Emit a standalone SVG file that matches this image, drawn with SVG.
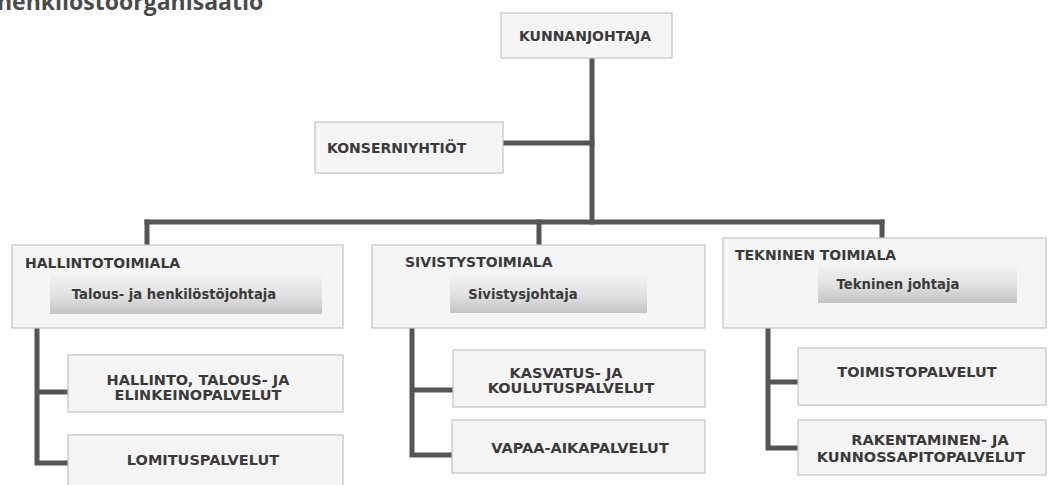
<svg xmlns="http://www.w3.org/2000/svg" width="1050" height="485" viewBox="0 0 1050 485">
<defs>
<linearGradient id="g" x1="0" y1="0" x2="0" y2="1">
<stop offset="0" stop-color="#f2f2f2"/>
<stop offset="0.5" stop-color="#e2e2e2"/>
<stop offset="1" stop-color="#c4c4c4"/>
</linearGradient>
<style>
.box{fill:#f5f5f5;stroke:#c4c4c4;stroke-width:1.2}
.inner{fill:url(#g);stroke:none}
.t{font-family:"DejaVu Sans",Verdana,sans-serif;font-weight:bold;font-size:14px;fill:#3a3a3a}
.u{font-size:14.5px}
.s{font-family:"DejaVu Sans",Verdana,sans-serif;font-weight:bold;font-size:13.2px;fill:#3a3a3a;text-anchor:middle}
.c{text-anchor:middle}
.ln{fill:none;stroke:#555;stroke-width:5;stroke-linecap:square;stroke-linejoin:miter}
</style>
</defs>
<rect width="1050" height="485" fill="#fff"/>
<text x="-3" y="10" font-family="'Open Sans',sans-serif" font-weight="bold" font-size="23" fill="#4a4a4a">henkilöstöorganisaatio</text>
<g id="connectors">
<path class="ln" d="M592 58 V222"/>
<path class="ln" d="M504 143 H592"/>
<path class="ln" d="M147 222 H882"/>
<path class="ln" d="M147 222 V243 M539 222 V243 M882 222 V238"/>
<path class="ln" d="M37 329 V463 H68 M37 392 H68"/>
<path class="ln" d="M412 329 V455 H452 M412 390 H452"/>
<path class="ln" d="M768 329 V448 H798 M768 382 H798"/>
</g>
<g id="kunnanjohtaja">
<rect class="box" x="501" y="13" width="171" height="45"/>
<text class="t c" x="585" y="41">KUNNANJOHTAJA</text>
</g>
<g id="konserniyhtiot">
<rect class="box" x="315" y="122" width="188" height="51"/>
<text class="t" x="327" y="153">KONSERNIYHTIÖT</text>
</g>
<g id="hallintotoimiala">
<rect class="box" x="12" y="245" width="331" height="83"/>
<text class="t" x="25" y="268">HALLINTOTOIMIALA</text>
<rect class="inner" x="50" y="276" width="272" height="38"/>
<text class="s" x="174" y="299">Talous- ja henkilöstöjohtaja</text>
</g>
<g id="sivistystoimiala">
<rect class="box" x="372" y="245" width="333" height="83"/>
<text class="t" x="405" y="267">SIVISTYSTOIMIALA</text>
<rect class="inner" x="450" y="276" width="197" height="37"/>
<text class="s" x="523" y="299">Sivistysjohtaja</text>
</g>
<g id="tekninen">
<rect class="box" x="723" y="238" width="323" height="90"/>
<text class="t" x="735" y="260">TEKNINEN TOIMIALA</text>
<rect class="inner" x="818" y="265" width="199" height="38"/>
<text class="s" x="898" y="289">Tekninen johtaja</text>
</g>
<g id="hallinto">
<rect class="box" x="68" y="355" width="275" height="57"/>
<text class="t u c" x="198" y="385">HALLINTO, TALOUS- JA</text>
<text class="t u c" x="198" y="400">ELINKEINOPALVELUT</text>
</g>
<g id="lomitus">
<rect class="box" x="68" y="435" width="275" height="60"/>
<text class="t u c" x="203" y="465">LOMITUSPALVELUT</text>
</g>
<g id="kasvatus">
<rect class="box" x="453" y="350" width="252" height="57"/>
<text class="t u c" x="566" y="378">KASVATUS- JA</text>
<text class="t u c" x="571" y="393">KOULUTUSPALVELUT</text>
</g>
<g id="vapaa">
<rect class="box" x="452" y="420" width="253" height="53"/>
<text class="t u c" x="580" y="453">VAPAA-AIKAPALVELUT</text>
</g>
<g id="toimisto">
<rect class="box" x="798" y="348" width="248" height="57"/>
<text class="t u c" x="917" y="377">TOIMISTOPALVELUT</text>
</g>
<g id="rakentaminen">
<rect class="box" x="798" y="420" width="248" height="55"/>
<text class="t u c" x="930" y="445">RAKENTAMINEN- JA</text>
<text class="t u c" x="921" y="462">KUNNOSSAPITOPALVELUT</text>
</g>
</svg>
